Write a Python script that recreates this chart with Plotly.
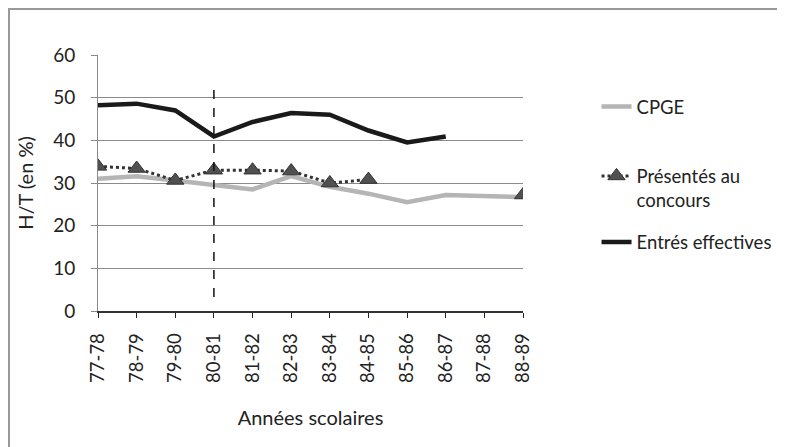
import plotly.graph_objects as go

# Années scolaires (x categories)
annees = ["77-78", "78-79", "79-80", "80-81", "81-82", "82-83",
          "83-84", "84-85", "85-86", "86-87", "87-88", "88-89"]

# H/T (en %)
cpge = [31.0, 31.6, 30.6, 29.5, 28.5, 31.6, 29.1, 27.5, 25.5, 27.2, 26.9, 26.7]
presentes = [33.9, 33.4, 30.6, 33.0, 33.0, 32.8, 30.0, 30.8, None, None, None, 27.2]
entres = [48.2, 48.6, 47.0, 40.9, 44.3, 46.4, 46.0, 42.3, 39.5, 40.9, None, None]

# vertical dashed marker
annee_repere = "80-81"
repere_bas, repere_haut = 3.3, 53.7

y_ticks = [0, 10, 20, 30, 40, 50, 60]

font_family = "Lato, 'Open Sans', sans-serif"
text_color = "#222222"
grid_color = "#8a8a8a"

fig = go.Figure()

fig.add_trace(go.Scatter(
    x=annees, y=cpge, name="CPGE", mode="lines",
    line=dict(color="#b5b5b5", width=4.5),
    legend="legend",
))
fig.add_trace(go.Scatter(
    x=annees, y=presentes, name="Présentés au<br>concours", mode="lines+markers",
    line=dict(color="#333333", width=3, dash="dot"),
    marker=dict(symbol="triangle-up", size=15, color="#505050",
                line=dict(color="#333333", width=1)),
    connectgaps=False,
    legend="legend2",
))
fig.add_trace(go.Scatter(
    x=annees, y=entres, name="Entrés effectives", mode="lines",
    line=dict(color="#1a1a1a", width=4.5),
    legend="legend3",
))

# dashed vertical line at 80-81
fig.add_shape(type="line", xref="x", yref="y",
              x0=annee_repere, x1=annee_repere, y0=repere_bas, y1=repere_haut,
              line=dict(color="#111111", width=1.5, dash="dash"))

# chart area border (runs off the right and bottom of the picture)
fig.add_shape(type="rect", xref="paper", yref="paper",
              x0=-0.2094, x1=1.65, y0=1.18, y1=-0.6,
              line=dict(color="#999999", width=2), layer="below")

legend_common = dict(
    font=dict(family=font_family, size=18.5, color=text_color),
    bgcolor="rgba(0,0,0,0)", xanchor="left", itemwidth=30,
)

# the page body adds an 8px offset, so margins are shifted to compensate
fig.update_layout(
    width=785, height=447, autosize=False,
    margin=dict(l=90, r=270, t=47, b=144),
    paper_bgcolor="white", plot_bgcolor="white",
    font=dict(family=font_family, size=19, color=text_color),
    showlegend=True,
    legend=dict(x=1.173, y=0.797, yanchor="middle", valign="middle", **legend_common),
    legend2=dict(x=1.173, y=0.60, yanchor="top", valign="top", **legend_common),
    legend3=dict(x=1.173, y=0.268, yanchor="middle", valign="middle", **legend_common),
)

fig.update_xaxes(
    type="category", range=[0, len(annees) - 1],
    tickangle=-90, tickfont=dict(size=18.5, color=text_color),
    ticks="outside", ticklen=5, tickcolor="#222222",
    showline=True, linecolor="#333333", linewidth=1.5,
    showgrid=False, zeroline=False,
    ticklabelstandoff=8,
    title=dict(text="Années scolaires", font=dict(size=20, color=text_color), standoff=29),
)

fig.update_yaxes(
    range=[0, 60], tickvals=y_ticks,
    tickfont=dict(size=19, color=text_color),
    ticks="outside", ticklen=6, tickcolor=grid_color,
    showline=True, linecolor=grid_color, linewidth=1,
    showgrid=True, gridcolor=grid_color, gridwidth=1,
    zeroline=False,
    ticklabelstandoff=12,
    title=dict(text="H/T (en %)", font=dict(size=20, color=text_color), standoff=14),
)

fig.write_html("out.html")
